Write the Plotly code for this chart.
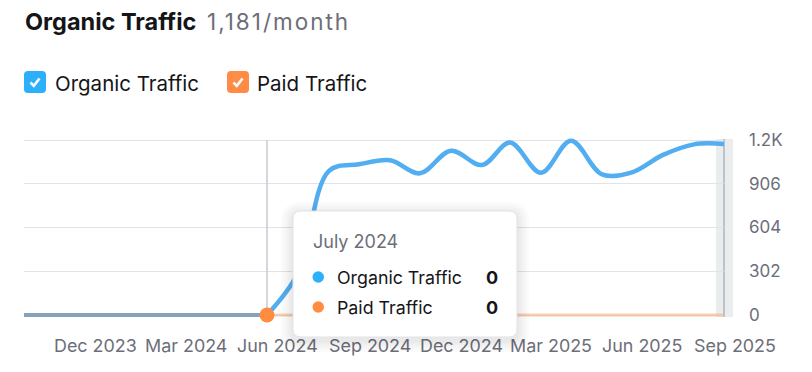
import plotly.graph_objects as go

# ---------------- data ----------------
months = ["2023-11-01", "2023-12-01", "2024-01-01", "2024-02-01", "2024-03-01",
          "2024-04-01", "2024-05-01", "2024-06-01", "2024-07-01", "2024-08-01",
          "2024-09-01", "2024-10-01", "2024-11-01", "2024-12-01", "2025-01-01",
          "2025-02-01", "2025-03-01", "2025-04-01", "2025-05-01", "2025-06-01",
          "2025-07-01", "2025-08-01", "2025-09-01", "2025-10-01"]
organic = [0, 0, 0, 0, 0, 0, 0, 0, 0, 290,
           995, 1040, 1068, 978, 1134, 1035, 1190, 982, 1203, 971,
           985, 1105, 1178, 1181]
paid = [0] * 24
tick_dates = ["2023-12-01", "2024-03-01", "2024-06-01", "2024-09-01",
              "2024-12-01", "2025-03-01", "2025-06-01", "2025-09-01"]
tick_labels = ["Dec 2023", "Mar 2024", "Jun 2024", "Sep 2024",
               "Dec 2024", "Mar 2025", "Jun 2025", "Sep 2025"]
y_ticks = [0, 302, 604, 906, 1208]
y_tick_labels = ["0", "302", "604", "906", "1.2K"]
hover_month = "2024-07-01"
hover_label = "July 2024"
first_data_idx = 8   # organic data starts at July 2024

# ---------------- geometry helpers ----------------
W, H = 812, 372
L, R = 24, 724
TOP, BOT = 135, 330
PW, PH = R - L, BOT - TOP


def px(x):
    return (x - L) / PW


def py(y):
    return (BOT - y) / PH


def rrect(x0, y0, x1, y1, r):
    rx, ry = r / PW, r / PH
    a, b, c, d = px(x0), py(y0), px(x1), py(y1)  # b top, d bottom (b > d)
    return (f"M {a+rx},{b} L {c-rx},{b} Q {c},{b} {c},{b-ry} "
            f"L {c},{d+ry} Q {c},{d} {c-rx},{d} L {a+rx},{d} "
            f"Q {a},{d} {a},{d+ry} L {a},{b-ry} Q {a},{b} {a+rx},{b} Z")


FONT = "Inter"
GREY_TXT = "#6c6e79"
BLUE = "#52aef0"
ORANGE = "#ff8c3f"

fig = go.Figure()

# paid line (thin, light)
fig.add_trace(go.Scatter(x=months, y=paid, mode="lines",
                         line=dict(color="rgba(245,170,120,0.55)", width=3),
                         hoverinfo="skip", showlegend=False))
# organic: no-data prefix in grey-blue
fig.add_trace(go.Scatter(x=months[:first_data_idx + 1], y=organic[:first_data_idx + 1],
                         mode="lines", line=dict(color="#87a3bc", width=4),
                         hoverinfo="skip", showlegend=False))
# organic main line
fig.add_trace(go.Scatter(x=months[first_data_idx:], y=organic[first_data_idx:],
                         mode="lines", line=dict(color=BLUE, width=4.5, shape="spline", smoothing=1),
                         hoverinfo="skip", showlegend=False))
# hover marker
hi = months.index(hover_month)
fig.add_trace(go.Scatter(x=[hover_month], y=[paid[hi]], mode="markers",
                         marker=dict(color=ORANGE, size=15), cliponaxis=False,
                         hoverinfo="skip", showlegend=False))

yscale = 1208 / 175.0
yr = [0 - (BOT - 315) * yscale, 1208 + (140 - TOP) * yscale]

shapes = []
# end band
shapes.append(dict(type="rect", xref="paper", yref="paper", x0=px(716), x1=px(733),
                   y0=py(317), y1=py(139), fillcolor="#e9edee", line=dict(width=0), layer="between"))
shapes.append(dict(type="line", xref="paper", yref="paper", x0=px(724), x1=px(724),
                   y0=py(317), y1=py(139), line=dict(color="#bcc4c9", width=2), layer="between"))
# crosshair
shapes.append(dict(type="line", xref="x", yref="y", x0=hover_month, x1=hover_month,
                   y0=0, y1=1208, line=dict(color="#c9c9d2", width=1.5), layer="between"))

# legend checkboxes
for x0, col in [(24, "#2cb0fb"), (227, "#ff8c45")]:
    shapes.append(dict(type="path", xref="paper", yref="paper", path=rrect(x0, 71, x0 + 22, 93, 4),
                       fillcolor=col, line=dict(width=0)))
    chk = f"M {px(x0+6.5)},{py(82.5)} L {px(x0+9.8)},{py(85.8)} L {px(x0+15.5)},{py(78.5)}"
    shapes.append(dict(type="path", xref="paper", yref="paper", path=chk,
                       line=dict(color="white", width=2.6)))

# tooltip shadow + box
tx0, ty0, tx1, ty1 = 293, 211, 517, 337
for i, a in enumerate([0.018, 0.018, 0.02, 0.022, 0.025]):
    g = 12 - i * 2.4
    shapes.append(dict(type="path", xref="paper", yref="paper",
                       path=rrect(tx0 - g, ty0 - g + 3, tx1 + g, ty1 + g + 3, 8 + g),
                       fillcolor=f"rgba(40,40,60,{a})", line=dict(width=0)))
shapes.append(dict(type="path", xref="paper", yref="paper", path=rrect(tx0, ty0, tx1, ty1, 8),
                   fillcolor="white", line=dict(color="#e3e3ea", width=1)))
for yy, col in [(277, "#2cb0fb"), (307, ORANGE)]:
    shapes.append(dict(type="circle", xref="paper", yref="paper",
                       x0=px(312.5), x1=px(324), y0=py(yy + 5.75), y1=py(yy - 5.75),
                       fillcolor=col, line=dict(width=0)))

annotations = []
annotations.append(dict(xref="paper", yref="paper", x=px(23), y=py(21), xanchor="left", yanchor="middle",
                        showarrow=False, text="<b>Organic Traffic</b>",
                        font=dict(family=FONT, size=23.5, color="#151518")))
annotations.append(dict(xref="paper", yref="paper", x=px(205), y=py(21), xanchor="left", yanchor="middle",
                        showarrow=False,
                        text=f"<span style='letter-spacing:2px'>{organic[-1]:,}/month</span>",
                        font=dict(family=FONT, size=22.5, color=GREY_TXT)))
for x0, t in [(55, "Organic Traffic"), (257, "Paid Traffic")]:
    annotations.append(dict(xref="paper", yref="paper", x=px(x0 - 2), y=py(83), xanchor="left",
                            yanchor="middle", showarrow=False, text=t,
                            font=dict(family=FONT, size=20.5, color="#151518")))
annotations.append(dict(xref="paper", yref="paper", x=px(311), y=py(241), xanchor="left", yanchor="middle",
                        showarrow=False, text=hover_label, font=dict(family=FONT, size=18, color=GREY_TXT)))
for yy, name, val in [(277, "Organic Traffic", organic[hi]), (307, "Paid Traffic", paid[hi])]:
    annotations.append(dict(xref="paper", yref="paper", x=px(335), y=py(yy), xanchor="left",
                            yanchor="middle", showarrow=False, text=name,
                            font=dict(family=FONT, size=17.8, color="#151518")))
    annotations.append(dict(xref="paper", yref="paper", x=px(500), y=py(yy), xanchor="right",
                            yanchor="middle", showarrow=False, text=f"<b>{val}</b>",
                            font=dict(family=FONT, size=18, color="#151518")))

fig.update_layout(
    width=W, height=H, autosize=False,
    margin=dict(l=L, r=W - R, t=TOP, b=H - BOT, pad=0),
    paper_bgcolor="white", plot_bgcolor="white",
    showlegend=False, shapes=shapes, annotations=annotations,
    font=dict(family=FONT, color=GREY_TXT, size=17),
    xaxis=dict(type="date", range=[months[0], months[-1]], tickvals=tick_dates, ticktext=tick_labels,
               showgrid=False, zeroline=False, showline=False, ticks="", tickangle=0, automargin=False,
               ticklabelposition="outside right", ticklabelstandoff=3,
               tickfont=dict(family=FONT, size=17.9, color=GREY_TXT)),
    yaxis=dict(range=yr, side="right", tickvals=y_ticks, ticktext=y_tick_labels, automargin=False,
               showgrid=True, gridcolor="#e2e2ea", gridwidth=1, zeroline=False, showline=False,
               ticks="", ticklabelstandoff=24,
               tickfont=dict(family=FONT, size=17, color=GREY_TXT)),
)

fig.write_html("out.html", config={"displayModeBar": False},
               post_script="document.body.style.margin='0';")
